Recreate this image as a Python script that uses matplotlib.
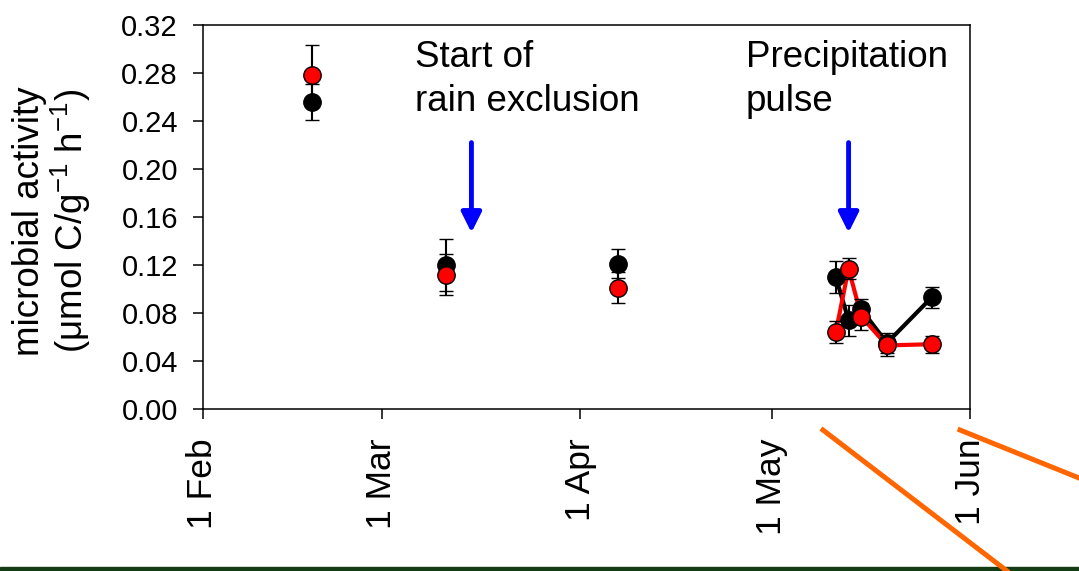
import pandas as pd
import matplotlib
matplotlib.use('Agg')
import matplotlib.pyplot as plt
from matplotlib.lines import Line2D
from matplotlib.patches import Rectangle

plt.rcParams['font.family'] = ['Liberation Sans', 'DejaVu Sans']
plt.rcParams['mathtext.fontset'] = 'custom'
plt.rcParams['mathtext.rm'] = 'Liberation Sans'

# 측정 날짜
early_dates = pd.to_datetime(['2007-02-18', '2007-03-11', '2007-04-07'])
pulse_dates = pd.to_datetime(['2007-05-11', '2007-05-13', '2007-05-15', '2007-05-19', '2007-05-26'])

# 검은색 (control) / 빨간색 (rain exclusion)
black_early = [0.256, 0.120, 0.121]
black_early_err = [0.015, 0.022, 0.012]
red_early = [0.278, 0.112, 0.101]
red_early_err = [0.025, 0.017, 0.013]

black_pulse = [0.110, 0.074, 0.083, 0.055, 0.093]
black_pulse_err = [0.013, 0.013, 0.009, 0.008, 0.009]
red_pulse = [0.064, 0.117, 0.077, 0.053, 0.054]
red_pulse_err = [0.009, 0.009, 0.011, 0.009, 0.007]

# 화살표 (날짜, 시작값, 끝값)
arrow_dates = pd.to_datetime(['2007-03-15', '2007-05-13'])
arrow_top = 0.222
arrow_tip = 0.147

tick_dates = pd.to_datetime(['2007-02-01', '2007-03-01', '2007-04-01', '2007-05-01', '2007-06-01'])
tick_labels = ['1 Feb', '1 Mar', '1 Apr', '1 May', '1 Jun']
y_ticks = [0.00, 0.04, 0.08, 0.12, 0.16, 0.20, 0.24, 0.28, 0.32]

fig = plt.figure(figsize=(10.79, 5.71), dpi=100)
ax = fig.add_axes([0.1881, 0.2837, 0.7109, 0.6725])

eb = dict(fmt='o', ms=12.5, mec='black', mew=1, ecolor='black',
          elinewidth=1.5, capsize=5, capthick=1.5)

# 연결선
ax.plot(pulse_dates, black_pulse, color='black', lw=3, zorder=2)
ax.plot(pulse_dates, red_pulse, color='red', lw=3, zorder=2)

ax.errorbar(early_dates, black_early, yerr=black_early_err, mfc='black', zorder=3, **eb)
ax.errorbar(pulse_dates, black_pulse, yerr=black_pulse_err, mfc='black', zorder=3, **eb)
ax.errorbar(early_dates, red_early, yerr=red_early_err, mfc='red', zorder=4, **eb)
ax.errorbar(pulse_dates, red_pulse, yerr=red_pulse_err, mfc='red', zorder=4, **eb)

for d in arrow_dates:
    ax.annotate('', xy=(d, arrow_tip), xytext=(d, arrow_top),
                arrowprops=dict(arrowstyle='-|>,head_length=0.6,head_width=0.3',
                                color='blue', lw=3.5, mutation_scale=20,
                                shrinkA=0, shrinkB=0))

ax.text(0.276, 0.962, 'Start of\nrain exclusion', transform=ax.transAxes,
        fontsize=26.5, va='top', ha='left', linespacing=1.35)
ax.text(0.708, 0.962, 'Precipitation\npulse', transform=ax.transAxes,
        fontsize=26.5, va='top', ha='left', linespacing=1.35)

ax.set_xlim(tick_dates[0], tick_dates[-1])
ax.set_ylim(0, 0.32)
ax.set_xticks(tick_dates)
ax.set_xticklabels(tick_labels, rotation=90, fontsize=25.5)
ax.set_yticks(y_ticks)
ax.set_yticklabels(['%.2f' % v for v in y_ticks], fontsize=21)
ax.tick_params(direction='out', length=7, width=1.1)
ax.tick_params(axis='y', pad=11)
ax.tick_params(axis='x', pad=14)
for s in ax.spines.values():
    s.set_linewidth(1.1)

ax.set_ylabel('microbial activity\n(μmol C/g$^{\\mathregular{-1}}$ h$^{\\mathregular{-1}}$)',
              fontsize=26.5, linespacing=1.05)
ax.yaxis.set_label_coords(-0.143, 0.49)

# 장식선
fig.patches.append(Rectangle((0, 0), 1, 4 / 571, transform=fig.transFigure,
                             color='#143c14', zorder=5))
fig.lines.append(Line2D([0.7627, 0.9333], [0.2469, 0.0], transform=fig.transFigure,
                        color='#ff6600', lw=3.6, zorder=6))
fig.lines.append(Line2D([0.8897, 1.0], [0.2469, 0.1629], transform=fig.transFigure,
                        color='#ff6600', lw=3.6, zorder=6))

fig.savefig('out.png', dpi=100)
